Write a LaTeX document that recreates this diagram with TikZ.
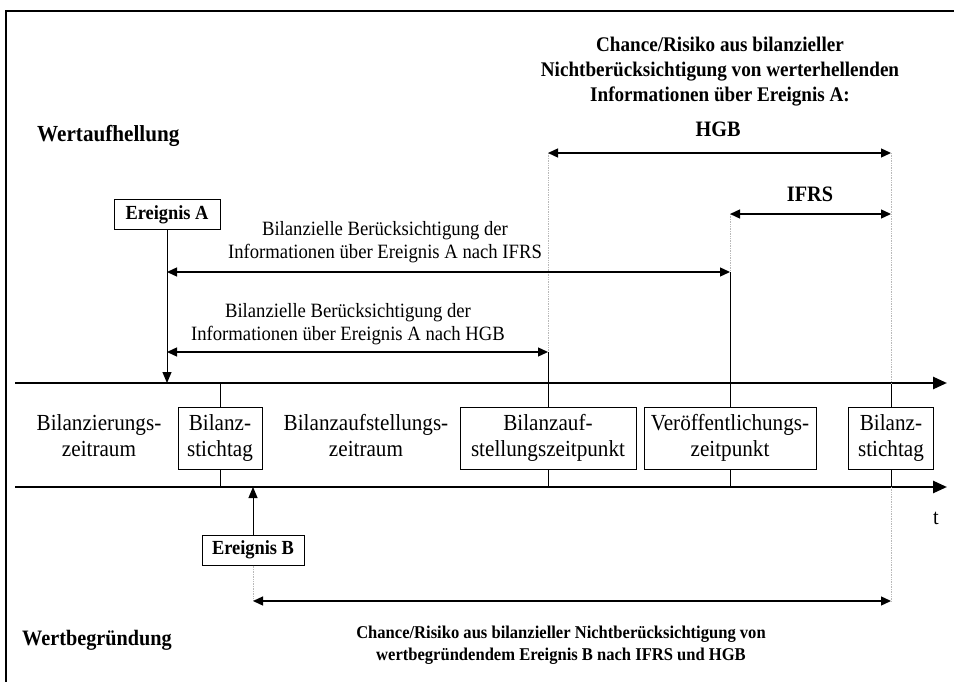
\documentclass[tikz,border=0pt]{standalone}
\usepackage{fontspec}
\setmainfont[FakeStretch=0.92]{Liberation Serif}
\usetikzlibrary{arrows.meta}
\begin{document}
\begin{tikzpicture}[x=1pt,y=-1pt,
  axis/.style={line width=2.6pt,-{Triangle[length=14pt,width=12pt]}},
  span/.style={line width=1.3pt,{Triangle[length=10pt,width=9pt]}-{Triangle[length=10pt,width=9pt]}},
  ptr/.style={line width=1pt,-{Triangle[length=11pt,width=9pt]}},
  guide/.style={line width=0.7pt,gray!55,densely dotted},
  tick/.style={line width=1pt},
  datebox/.style={draw,line width=1pt,minimum height=62pt,align=center,inner sep=0pt,
    font=\fontsize{23}{26}\selectfont},
  eventbox/.style={draw,line width=1pt,minimum height=30pt,inner sep=0pt,
    font=\fontsize{20}{22}\selectfont\bfseries},
  plain/.style={align=center,inner sep=0pt,font=\fontsize{23}{26}\selectfont},
  note/.style={align=center,inner sep=0pt,font=\fontsize{20.3}{23}\selectfont},
  head/.style={align=center,inner sep=0pt,font=\fontsize{20.8}{25}\selectfont\bfseries},
  side/.style={anchor=west,inner sep=0pt,font=\fontsize{23}{26}\selectfont\bfseries},
]
\useasboundingbox (0,0) rectangle (954,682);

% frame
\draw[line width=2.5pt] (6,682) -- (6,11) -- (954,11);

% reference heights
\coordinate (yHGB) at (0,153);
\coordinate (yIFRS) at (0,214);
\coordinate (yAi) at (0,272);
\coordinate (yAh) at (0,352);
\coordinate (yB) at (0,601);

% time axes
\coordinate (t1s) at (15,383);
\coordinate (t1e) at (947,383);
\coordinate (t2s) at (15,487);
\coordinate (t2e) at (947,487);
\draw[axis] (t1s) -- (t1e);
\draw[axis] (t2s) -- (t2e);
\node[inner sep=0pt,font=\fontsize{22}{26}\selectfont] (tlab) at (936,518) {t};

% periods and dates between the axes
\node[plain] (zr1) at (99,436) {Bilanzierungs-\\zeitraum};
\node[datebox,minimum width=84pt] (bs1) at (220,438) {Bilanz-\\stichtag};
\node[plain] (zr2) at (366,436) {Bilanzaufstellungs-\\zeitraum};
\node[datebox,minimum width=176pt] (azp) at (548,438) {Bilanzauf-\\stellungszeitpunkt};
\node[datebox,minimum width=172pt] (vzp) at (730,438) {Veröffentlichungs-\\zeitpunkt};
\node[datebox,minimum width=85pt] (bs2) at (891,438) {Bilanz-\\stichtag};

% ticks from the boxes to the axes
\foreach \b in {bs1,azp,vzp,bs2}{
  \draw[tick] (\b.north) -- (\b.north |- t1s);
  \draw[tick] (\b.south) -- (\b.south |- t2s);
}

% value-clarifying side
\node[side] (wa) at (37,136) {Wertaufhellung};
\node[head] (title) at (720,72) {Chance/Risiko aus bilanzieller\\Nichtberücksichtigung von werterhellenden\\Informationen über Ereignis A:};
\node[head,font=\fontsize{22}{25}\selectfont\bfseries] (hgb) at (718,129) {HGB};
\node[head,font=\fontsize{22}{25}\selectfont\bfseries] (ifrs) at (810,194) {IFRS};

\draw[guide] (azp.north |- yHGB) -- (azp.north |- yAh);
\draw[tick] (azp.north |- yAh) -- (azp.north |- t1s);
\draw[guide] (vzp.north |- yIFRS) -- (vzp.north |- yAi);
\draw[tick] (vzp.north |- yAi) -- (vzp.north |- t1s);
\draw[guide] (bs2.north |- yHGB) -- (bs2.north |- t1s);
\draw[span] (azp.north |- yHGB) -- (bs2.north |- yHGB);
\draw[span] (vzp.north |- yIFRS) -- (bs2.north |- yIFRS);

\node[eventbox,minimum width=106pt] (evA) at (167,215) {Ereignis A};
\draw[ptr] (evA.south) -- (evA.south |- t1s);
\node[note] (nIFRS) at (385,242) {Bilanzielle Berücksichtigung der\\Informationen über Ereignis A nach IFRS};
\draw[span] (evA.south |- yAi) -- (vzp.north |- yAi);
\node[note] (nHGB) at (348,324) {Bilanzielle Berücksichtigung der\\Informationen über Ereignis A nach HGB};
\draw[span] (evA.south |- yAh) -- (azp.north |- yAh);

% value-establishing side
\node[eventbox,minimum width=102pt] (evB) at (253,550) {Ereignis B};
\draw[ptr] (evB.north) -- (evB.north |- t2s);
\draw[guide] (evB.south) -- (evB.south |- yB);
\draw[guide] (bs2.south |- t2s) -- (bs2.south |- yB);
\draw[span] (evB.south |- yB) -- (bs2.south |- yB);
\node[side,font=\fontsize{22}{26}\selectfont\bfseries] (wb) at (22,640) {Wertbegründung};
\node[head,font=\fontsize{18}{22.5}\selectfont\bfseries] (chB) at (561,645) {Chance/Risiko aus bilanzieller Nichtberücksichtigung von\\wertbegründendem Ereignis B nach IFRS und HGB};
\end{tikzpicture}
\end{document}
